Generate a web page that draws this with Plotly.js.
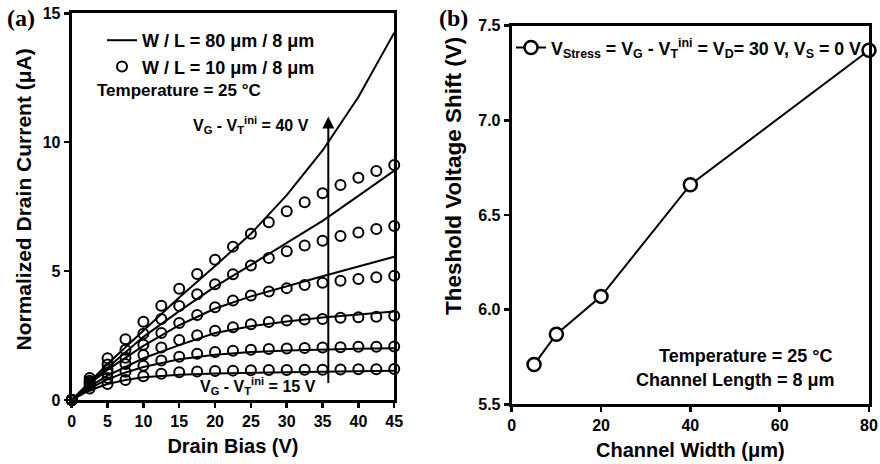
<!DOCTYPE html>
<html>
<head>
<meta charset="utf-8">
<script src="https://cdn.plot.ly/plotly-3.0.1.min.js"></script>
<style>html,body{margin:0;padding:0;background:#fff;}#chart{width:880px;height:464px;}</style>
</head>
<body>
<div id="chart"></div>
<script>
// ---- Panel (a): output characteristics ----
const drainBiasCircles = [0, 2.5, 5, 7.5, 10, 12.5, 15, 17.5, 20, 22.5, 25, 27.5, 30, 32.5, 35, 37.5, 40, 42.5, 45];
const w10_vg15 = [0, 0.45, 0.62, 0.78, 0.92, 1.02, 1.08, 1.11, 1.13, 1.14, 1.15, 1.16, 1.16, 1.17, 1.17, 1.18, 1.19, 1.19, 1.20];
const w10_vg20 = [0, 0.55, 0.85, 1.10, 1.33, 1.53, 1.68, 1.79, 1.86, 1.91, 1.95, 1.98, 2.00, 2.02, 2.04, 2.05, 2.07, 2.07, 2.08];
const w10_vg25 = [0, 0.62, 1.05, 1.40, 1.75, 2.04, 2.33, 2.51, 2.69, 2.82, 2.94, 3.03, 3.08, 3.12, 3.14, 3.19, 3.21, 3.23, 3.27];
const w10_vg30 = [0, 0.68, 1.18, 1.64, 2.14, 2.60, 2.99, 3.30, 3.60, 3.86, 4.05, 4.21, 4.34, 4.46, 4.55, 4.63, 4.69, 4.76, 4.82];
const w10_vg35 = [0, 0.75, 1.38, 1.95, 2.57, 3.14, 3.65, 4.10, 4.49, 4.88, 5.22, 5.51, 5.77, 5.99, 6.18, 6.36, 6.50, 6.63, 6.75];
const w10_vg40 = [0, 0.85, 1.62, 2.36, 3.04, 3.66, 4.32, 4.89, 5.44, 5.95, 6.45, 6.90, 7.32, 7.67, 8.02, 8.34, 8.62, 8.88, 9.12];

const drainBiasLines = [0, 2.5, 5, 7.5, 10, 15, 20, 25, 30, 35, 40, 45];
const w80_vg15 = [0, 0.38, 0.62, 0.78, 0.88, 0.98, 1.03, 1.06, 1.08, 1.10, 1.12, 1.14];
const w80_vg20 = [0, 0.45, 0.80, 1.07, 1.28, 1.58, 1.76, 1.86, 1.92, 1.96, 1.99, 2.01];
const w80_vg25 = [0, 0.52, 0.95, 1.30, 1.62, 2.13, 2.60, 2.86, 3.05, 3.20, 3.32, 3.43];
const w80_vg30 = [0, 0.62, 1.18, 1.65, 2.10, 2.90, 3.55, 4.02, 4.42, 4.80, 5.18, 5.56];
const w80_vg35 = [0, 0.65, 1.25, 1.85, 2.45, 3.45, 4.40, 5.24, 6.08, 6.95, 7.92, 8.90];
const w80_vg40 = [0, 0.72, 1.40, 2.05, 2.70, 3.98, 5.20, 6.45, 7.95, 9.68, 11.75, 14.25];

// ---- Panel (b): threshold voltage shift ----
const channelWidth = [5, 10, 20, 40, 80];
const vtShift = [5.71, 5.87, 6.07, 6.66, 7.37];

const FONT = "Liberation Sans, Arial, sans-serif";
const SERIF = "Liberation Serif, Times New Roman, serif";

const lineSets = [w80_vg15, w80_vg20, w80_vg25, w80_vg30, w80_vg35, w80_vg40];
const circSets = [w10_vg15, w10_vg20, w10_vg25, w10_vg30, w10_vg35, w10_vg40];

const traces = [];
lineSets.forEach((ys, i) => {
  traces.push({
    x: drainBiasLines, y: ys, xaxis: 'x', yaxis: 'y', type: 'scatter', mode: 'lines',
    line: {color: '#000', width: 2}, name: 'W / L = 80 μm / 8 μm',
    showlegend: i === 0, legend: 'legend', legendrank: 1, cliponaxis: false
  });
});
circSets.forEach((ys, i) => {
  traces.push({
    x: drainBiasCircles, y: ys, xaxis: 'x', yaxis: 'y', type: 'scatter', mode: 'markers',
    marker: {symbol: 'circle-open', size: 10, color: '#000', line: {width: 2, color: '#000'}},
    name: 'W / L = 10 μm / 8 μm', showlegend: i === 0, legend: 'legend', legendrank: 2, cliponaxis: false
  });
});
traces.push({
  x: channelWidth, y: vtShift, xaxis: 'x2', yaxis: 'y2', type: 'scatter', mode: 'lines+markers',
  line: {color: '#000', width: 2},
  marker: {symbol: 'circle', size: 13, color: '#fff', line: {width: 2.5, color: '#000'}},
  name: 'V<sub>Stress</sub> = V<sub>G</sub> - V<sub>T</sub><sup>ini</sup> = V<sub>D</sub>= 30 V, V<sub>S</sub> = 0 V',
  legend: 'legend2', showlegend: true, cliponaxis: false
});

const axBase = {
  showgrid: false, zeroline: false, showline: true, linecolor: '#000', linewidth: 3, mirror: true,
  ticks: 'outside', ticklen: 5, tickwidth: 2.5, tickcolor: '#000',
  tickfont: {family: FONT, size: 16, color: '#000', weight: 'bold'}
};
const titleFont = {family: FONT, size: 20, color: '#000', weight: 'bold'};
const bold = (size) => ({family: FONT, size: size, color: '#000', weight: 'bold'});

const layout = {
  width: 880, height: 464,
  margin: {l: 0, r: 0, t: 0, b: 0},
  paper_bgcolor: '#fff', plot_bgcolor: '#fff',
  font: {family: FONT, color: '#000'},
  xaxis: Object.assign({}, axBase, {
    domain: [0.0815, 0.448], range: [0, 45], tickvals: [0, 5, 10, 15, 20, 25, 30, 35, 40, 45],
    anchor: 'y', title: {text: 'Drain Bias (V)', font: titleFont, standoff: 10}
  }),
  yaxis: Object.assign({}, axBase, {
    domain: [0.1379, 0.9713], range: [0, 15], tickvals: [0, 5, 10, 15], anchor: 'x'
  }),
  xaxis2: Object.assign({}, axBase, {
    domain: [0.5815, 0.9875], range: [0, 80], tickvals: [0, 20, 40, 60, 80],
    anchor: 'y2', title: {text: 'Channel Width (μm)', font: titleFont, standoff: 10}
  }),
  yaxis2: Object.assign({}, axBase, {
    domain: [0.1287, 0.9446], range: [5.5, 7.5], tickvals: [5.5, 6.0, 6.5, 7.0, 7.5], tickformat: '.1f',
    anchor: 'x2'
  }),
  legend: {
    x: 102 / 880, xanchor: 'left', y: 1 - 22 / 464, yanchor: 'top',
    bgcolor: 'rgba(0,0,0,0)', borderwidth: 0, traceorder: 'normal',
    font: bold(18)
  },
  legend2: {
    x: 511 / 880, xanchor: 'left', y: 1 - 48 / 464, yanchor: 'middle',
    bgcolor: 'rgba(0,0,0,0)', borderwidth: 0,
    font: bold(17.8)
  },
  annotations: [
    {xref: 'paper', yref: 'paper', x: 22.5 / 880, y: 1 - 200 / 464, xanchor: 'center', yanchor: 'middle',
     textangle: -90, text: 'Normalized Drain Current (μA)', showarrow: false, font: bold(21)},
    {xref: 'paper', yref: 'paper', x: 453.5 / 880, y: 1 - 176.5 / 464, xanchor: 'center', yanchor: 'middle',
     textangle: -90, text: 'Theshold Voltage Shift (V)', showarrow: false, font: bold(22.5)},
    {xref: 'paper', yref: 'paper', x: 5 / 880, y: 1 - 18 / 464, xanchor: 'left', yanchor: 'middle',
     text: '(a)', showarrow: false, font: {family: SERIF, size: 24, color: '#000', weight: 'bold'}},
    {xref: 'paper', yref: 'paper', x: 437 / 880, y: 1 - 18 / 464, xanchor: 'left', yanchor: 'middle',
     text: '(b)', showarrow: false, font: {family: SERIF, size: 24, color: '#000', weight: 'bold'}},
    {xref: 'paper', yref: 'paper', x: 95 / 880, y: 1 - 90 / 464, xanchor: 'left', yanchor: 'middle',
     text: 'Temperature = 25 °C', showarrow: false, font: bold(17)},
    {xref: 'x', yref: 'y', x: 35.8, y: 11.0, axref: 'x', ayref: 'y', ax: 35.8, ay: 0.6,
     text: '', showarrow: true, arrowhead: 2, arrowsize: 1.2, arrowwidth: 2, arrowcolor: '#000', standoff: 0, startstandoff: 0},
    {xref: 'x', yref: 'y', x: 33.4, y: 10.67, xanchor: 'right', yanchor: 'middle',
     text: 'V<sub>G</sub> - V<sub>T</sub><sup>ini</sup> = 40 V', showarrow: false, font: bold(16)},
    {xref: 'x', yref: 'y', x: 34.4, y: 0.55, xanchor: 'right', yanchor: 'middle',
     text: 'V<sub>G</sub> - V<sub>T</sub><sup>ini</sup> = 15 V', showarrow: false, font: bold(16)},
    {xref: 'paper', yref: 'paper', x: 834 / 880, y: 1 - 356 / 464, xanchor: 'right', yanchor: 'middle',
     text: 'Temperature = 25 °C', showarrow: false, font: bold(18)},
    {xref: 'paper', yref: 'paper', x: 837 / 880, y: 1 - 380 / 464, xanchor: 'right', yanchor: 'middle',
     text: 'Channel Length = 8 μm', showarrow: false, font: bold(18)}
  ]
};

Plotly.newPlot('chart', traces, layout, {staticPlot: true, displayModeBar: false});
</script>
</body>
</html>
